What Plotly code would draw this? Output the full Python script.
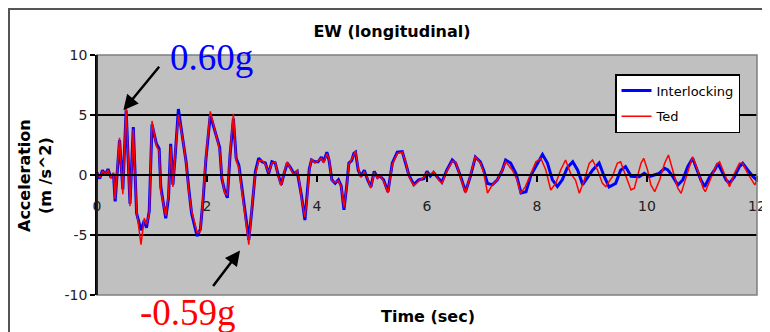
import plotly.graph_objects as go

# ---------------- data ----------------
t_interlocking = [0, 0.05, 0.1, 0.15, 0.2, 0.25, 0.3, 0.33, 0.41, 0.47, 0.53, 0.6, 0.66, 0.72, 0.8, 0.86, 0.9, 0.95,
                  1.0, 1.08, 1.13, 1.16, 1.25, 1.3, 1.34, 1.38, 1.42, 1.48, 1.52, 1.57, 1.62, 1.67, 1.72, 1.82, 1.88,
                  1.93, 1.98, 2.06, 2.12, 2.17, 2.23, 2.27, 2.32, 2.37, 2.42, 2.48, 2.53, 2.58, 2.64, 2.70, 2.76,
                  2.82, 2.88, 2.94, 3.0, 3.06, 3.12, 3.18, 3.24, 3.29, 3.35, 3.4, 3.46, 3.52, 3.58, 3.64, 3.68, 3.72,
                  3.78, 3.82, 3.86, 3.9, 3.96, 4.02, 4.08, 4.12, 4.18, 4.22, 4.27, 4.33, 4.39, 4.44, 4.49, 4.54,
                  4.58, 4.63, 4.67, 4.7, 4.75, 4.8, 4.86, 4.92, 4.98, 5.04, 5.1, 5.15, 5.21, 5.29, 5.37, 5.46, 5.55,
                  5.61, 5.67, 5.76, 5.85, 5.94, 6.0, 6.06, 6.12, 6.21, 6.27, 6.36, 6.46, 6.52, 6.61, 6.7, 6.79,
                  6.88, 6.97, 7.03, 7.1, 7.19, 7.28, 7.37, 7.43, 7.52, 7.62, 7.71, 7.8, 7.89, 8.01, 8.1, 8.19,
                  8.28, 8.37, 8.46, 8.55, 8.65, 8.74, 8.83, 8.92, 9.01, 9.13, 9.22, 9.31, 9.43, 9.52, 9.61, 9.71,
                  9.77, 9.86, 9.95, 10.04, 10.13, 10.22, 10.32, 10.38, 10.47, 10.56, 10.65, 10.74, 10.83, 10.89,
                  10.98, 11.05, 11.14, 11.23, 11.29, 11.35, 11.44, 11.5, 11.59, 11.68, 11.74, 11.83, 11.93, 12.0]
a_interlocking = [0.2, -0.3, 0.4, 0.0, 0.5, -0.2, 0.1, -2.2, 2.9, -1.2, 5.4, -2.4, 4.0, -3.2, -4.6, -3.8, -4.4, -3.0,
                  4.2, 2.6, 2.2, -1.0, -3.6, -1.9, 2.6, -0.8, 1.5, 5.5, 4.2, 2.5, 1.1, -1.2, -3.2, -5.1, -4.5,
                  -2.0, 1.3, 5.0, 4.0, 3.3, 2.3, -0.3, -1.3, -1.9, 1.7, 4.7, 1.4, 0.8, -1.2, -3.4, -5.4,
                  -2.7, 0.3, 1.4, 1.1, 1.0, 0.1, 1.1, 1.0, 0.1, -0.8, 0.1, 1.0, 0.6, 0.1, 0.3, -0.7, -1.8,
                  -3.75, -1.8, 0.5, 1.25, 1.1, 1.1, 1.5, 1.1, 1.9, 1.2, -0.4, -0.7, -0.4, -0.9, -2.9, -0.9,
                  1.0, 1.2, 1.8, 1.9, 0.4, -0.1, 0.4, -0.4, -1.0, 0.3, -0.2, -0.1, -0.4, -1.4, 1.0, 1.9, 1.95,
                  1.0, 0.0, -0.8, -0.4, -0.3, 0.3, -0.1, 0.2, -0.3, -0.6, 0.4, 1.25, 1.0, -0.1, -1.4, -0.1,
                  1.5, 1.1, 0.4, -0.7, -0.8, -0.4, 0.4, 1.25, 1.0, 0.1, -1.5, -1.4, 0.0, 1.0, 1.7, 1.0,
                  -0.4, -0.95, -0.4, 0.6, 1.1, 0.4, -0.8, -0.2, 0.4, 1.0, -0.1, -1.0, -0.7, 0.4, 0.7, -0.1,
                  -0.14, -0.14, 0.14, -0.14, 0.0, 0.14, 0.56, 0.42, -0.14, -0.83, -0.42, 0.7, 1.39, 0.7,
                  -0.42, -0.97, -0.14, 0.42, 0.97, 0.42, -0.42, -0.7, -0.14, 0.7, 0.97, 0.42, -0.14, -0.42]

t_ted = [0, 0.05, 0.1, 0.15, 0.2, 0.25, 0.3, 0.33, 0.41, 0.47, 0.53, 0.6, 0.66, 0.72, 0.8, 0.86, 0.9, 0.95,
         1.0, 1.08, 1.13, 1.16, 1.25, 1.3, 1.34, 1.38, 1.42, 1.48, 1.52, 1.57, 1.62, 1.67, 1.72, 1.82, 1.88,
         1.93, 1.98, 2.06, 2.12, 2.17, 2.23, 2.27, 2.32, 2.37, 2.42, 2.48, 2.53, 2.58, 2.64, 2.70, 2.76,
         2.82, 2.88, 2.94, 3.0, 3.06, 3.12, 3.18, 3.24, 3.29, 3.35, 3.4, 3.46, 3.52, 3.58, 3.64, 3.68, 3.72,
         3.78, 3.82, 3.86, 3.9, 3.96, 4.02, 4.08, 4.12, 4.18, 4.22, 4.27, 4.33, 4.39, 4.44, 4.49, 4.54,
         4.58, 4.63, 4.67, 4.7, 4.75, 4.8, 4.86, 4.92, 4.98, 5.04, 5.1, 5.15, 5.21, 5.29, 5.37, 5.46, 5.55,
         5.61, 5.67, 5.76, 5.85, 5.94, 6.0, 6.06, 6.12, 6.21, 6.27, 6.36, 6.46, 6.52, 6.61, 6.7, 6.79,
         6.88, 6.97, 7.03, 7.1, 7.19, 7.28, 7.37, 7.43, 7.55, 7.64, 7.7, 7.79, 7.89, 7.98, 8.07, 8.16,
         8.25, 8.34, 8.43, 8.52, 8.61, 8.7, 8.77, 8.86, 8.95, 9.01, 9.1, 9.19, 9.25, 9.37, 9.46, 9.52,
         9.62, 9.71, 9.77, 9.83, 9.89, 9.94, 10.01, 10.07, 10.14, 10.23, 10.32, 10.39, 10.47, 10.56,
         10.62, 10.71, 10.79, 10.83, 10.92, 11.02, 11.06, 11.17, 11.26, 11.32, 11.41, 11.5, 11.59, 11.68,
         11.74, 11.83, 11.96, 12.0]
a_ted = [0.3, -0.2, 0.3, 0.1, 0.4, -0.3, 0.2, -2.0, 3.1, -1.6, 5.7, -2.6, 3.8, -3.0, -5.8, -3.6, -4.1, -3.2,
         4.5, 2.4, 2.0, -1.3, -3.4, -1.7, 2.4, -1.0, 1.7, 5.0, 4.0, 2.7, 1.0, -1.4, -3.0, -4.8, -4.7,
         -1.8, 1.5, 5.3, 4.2, 3.1, 2.1, -0.1, -1.5, -1.7, 1.9, 5.1, 1.2, 0.6, -1.4, -3.6, -5.8,
         -2.5, 0.1, 1.2, 1.2, 0.9, 0.2, 1.0, 1.1, 0.0, -0.9, 0.2, 1.1, 0.5, 0.0, 0.4, -0.6, -2.0,
         -3.5, -2.0, 0.4, 1.35, 1.0, 1.2, 1.4, 1.0, 1.8, 1.3, -0.5, -0.6, -0.5, -1.0, -2.7, -1.0,
         0.9, 1.3, 1.7, 2.0, 0.5, -0.2, 0.3, -0.3, -1.1, 0.2, -0.3, 0.0, -0.5, -1.5, 0.9, 1.8, 1.9,
         1.1, -0.1, -0.9, -0.5, -0.2, 0.2, 0.0, 0.3, -0.4, -0.7, 0.3, 1.15, 1.1, -0.2, -1.5, 0.0,
         1.55, 1.0, 0.2, -1.5, -0.8, -0.4, 0.4, 1.1, 0.42, -0.42, -1.53, -0.97, 0.14, 1.1, 1.39, 0.42,
         -1.25, -0.7, 0.42, 1.25, 0.14, -0.42, -1.53, -0.42, 0.97, 1.25, 0.42, -0.7, -0.97, -0.14, 0.97, 1.1,
         -0.14, -1.25, -1.1, -0.14, 0.97, 1.39, 0.42, -0.83, -1.39, -0.42, 0.97, 1.67, 0.42, -1.1,
         -1.53, -0.14, 1.1, 1.53, 0.42, -1.1, -1.39, -0.14, 0.83, 1.1, 0.14, -0.97, 0.14, 0.97,
         0.97, 0.14, -0.83, -0.42]

y_ticks = [-10, -5, 0, 5, 10]
x_ticks = [0, 2, 4, 6, 8, 10, 12]

# ---------------- figure ----------------
# the page has an 8px body margin, so the figure is laid out 8px smaller and
# every screen position below is given in window pixels, then shifted by 8.
OFF = 8
W, H = 770 - OFF, 332 - OFF
PL, PR, PT, PB = 97, 757, 55, 295          # plot area in window pixels
L, T = PL - OFF, PT - OFF
R, B = W - (PR - OFF), H - (PB - OFF)
pw, ph = PR - PL, PB - PT


def px(xpix):
    return (xpix - PL) / pw


def py(ypix):
    return (PB - ypix) / ph


fig = go.Figure()
fig.add_trace(go.Scatter(x=t_interlocking, y=a_interlocking, mode="lines", name="Interlocking",
                         line=dict(color="#0000FF", width=3), legendgroup="a"))
fig.add_trace(go.Scatter(x=t_ted, y=a_ted, mode="lines", name="Ted",
                         line=dict(color="#FF0000", width=1.5), legendgroup="b"))

sans = "DejaVu Sans, Verdana, sans-serif"
serif = "Liberation Serif, Times New Roman, serif"

fig.update_layout(
    width=W, height=H,
    margin=dict(l=L, r=R, t=T, b=B, pad=0, autoexpand=False),
    paper_bgcolor="white",
    plot_bgcolor="#C0C0C0",
    font=dict(family=sans, size=14, color="black"),
    title=dict(text="<b>EW (longitudinal)</b>", x=(392 - OFF) / W, xref="container", xanchor="center",
               y=1 - (31 - OFF) / H, yref="container", yanchor="middle", font=dict(size=16, family=sans)),
    showlegend=True,
    legend=dict(x=px(615), y=py(74), xanchor="left", yanchor="top", bgcolor="white",
                bordercolor="black", borderwidth=1.5, font=dict(size=13, family=sans),
                traceorder="grouped", tracegroupgap=6, itemwidth=30),
    xaxis=dict(range=[0, 12], tickvals=x_ticks, ticktext=[str(v) for v in x_ticks],
               showgrid=False, zeroline=False, showline=True, linecolor="black", linewidth=1.5,
               ticks="outside", ticklen=6, tickwidth=1.5, tickcolor="black",
               anchor="free", position=0.5, ticklabelstandoff=12, automargin=False,
               tickfont=dict(size=14, color="#222")),
    yaxis=dict(range=[-10, 10], tickvals=y_ticks, ticktext=[str(v) for v in y_ticks],
               showgrid=True, gridcolor="black", gridwidth=1.5, zeroline=False,
               showline=True, linecolor="black", linewidth=1.5, automargin=False,
               ticks="outside", ticklen=5, tickwidth=1.5, tickcolor="black",
               tickfont=dict(size=14, color="#222")),
)

# plot-area border and outer chart frame
fig.add_shape(type="rect", xref="paper", yref="paper", x0=0, x1=1, y0=0, y1=1,
              line=dict(color="#7F7F7F", width=1.5), layer="above")
fig.add_shape(type="line", xref="paper", yref="paper", x0=0, x1=0, y0=0, y1=1,
              line=dict(color="black", width=1.5), layer="above")
fig.add_shape(type="rect", xref="paper", yref="paper", x0=px(OFF + 1), x1=px(790), y0=py(360), y1=py(OFF + 1),
              line=dict(color="#555555", width=2), layer="below")

# axis titles
fig.add_annotation(text="<b>Acceleration<br>(m /s^2)</b>", xref="paper", yref="paper",
                   x=px(35), y=py(176), textangle=-90, showarrow=False,
                   font=dict(size=16, family=sans), xanchor="center", yanchor="middle")
fig.add_annotation(text="<b>Time (sec)</b>", xref="paper", yref="paper",
                   x=px(428), y=py(316), showarrow=False,
                   font=dict(size=16, family=sans), xanchor="center", yanchor="middle")

# peak labels
fig.add_annotation(text="0.60g", xref="paper", yref="paper", x=px(211), y=py(58), showarrow=False,
                   font=dict(size=37, family=serif, color="#0000FF"), xanchor="center", yanchor="middle")
fig.add_annotation(text="-0.59g", xref="paper", yref="paper", x=px(188), y=py(312), showarrow=False,
                   font=dict(size=37, family=serif, color="#FF0000"), xanchor="center", yanchor="middle")

# arrows
fig.add_annotation(text="", x=0.48, y=5.4, xref="x", yref="y", ax=37, ay=-45, axref="pixel", ayref="pixel",
                   showarrow=True, arrowhead=2, arrowsize=1.2, arrowwidth=2.5, arrowcolor="black")
fig.add_annotation(text="", x=2.6, y=-6.3, xref="x", yref="y", ax=-28, ay=37, axref="pixel", ayref="pixel",
                   showarrow=True, arrowhead=2, arrowsize=1.2, arrowwidth=2.5, arrowcolor="black")

fig.write_html("out.html")
